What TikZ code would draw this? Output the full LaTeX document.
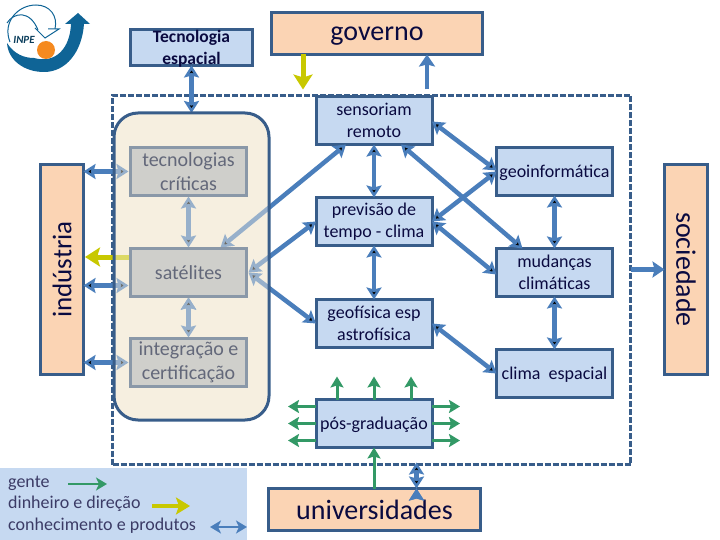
\documentclass[tikz,border=0pt]{standalone}
\usepackage{fontspec}
\setmainfont{Carlito}
\usepackage{xcolor}
\usepackage{tikz}
\usetikzlibrary{arrows.meta}

\definecolor{boxblue}{HTML}{C6D9F1}
\definecolor{boxpeach}{HTML}{FBD4B4}
\definecolor{edgeblue}{HTML}{385D8A}
\definecolor{linkblue}{HTML}{4A7EBB}
\definecolor{linkgreen}{HTML}{339966}
\definecolor{linkyellow}{HTML}{C8C800}
\definecolor{inktext}{HTML}{0A0A40}
\definecolor{panelcream}{HTML}{F6EFE0}
\definecolor{greyfill}{HTML}{CFCFCB}
\definecolor{greyedge}{HTML}{8A98A8}
\definecolor{greytext}{HTML}{63687A}
\definecolor{logoorange}{HTML}{F58A1F}
\definecolor{logoblue}{HTML}{0F6496}

\tikzset{
    bluebox/.style={rectangle,draw=edgeblue,fill=boxblue,line width=3pt,outer sep=0pt,
        text=inktext,align=center,font=\fontsize{18}{22}\selectfont,
        minimum width=116pt,minimum height=48pt,inner sep=0pt},
    peachbox/.style={rectangle,draw=edgeblue,fill=boxpeach,line width=3pt,outer sep=0pt,
        text=inktext,inner sep=0pt},
    greybox/.style={rectangle,draw=greyedge,fill=greyfill,line width=3pt,outer sep=0pt,
        text=greytext,align=center,font=\fontsize{20}{24}\selectfont,
        minimum width=116pt,minimum height=48pt,inner sep=0pt},
    link/.style={draw=linkblue,line width=4.5pt,{Stealth[length=12pt,width=15pt,inset=2pt]}-{Stealth[length=12pt,width=15pt,inset=2pt]}},
    uplink/.style={draw=linkblue,line width=4.5pt,-{Stealth[length=12pt,width=16pt,inset=2pt]}},
    money/.style={draw=linkyellow,line width=5pt,-{Stealth[length=15pt,width=19pt,inset=3pt]}},
    people/.style={draw=linkgreen,line width=3pt,-{Stealth[length=11pt,width=13pt,inset=2pt]}},
    keytext/.style={anchor=west,text=inktext!80,font=\fontsize{18}{20}\selectfont,inner sep=0pt},
}

\begin{document}
\begin{tikzpicture}[x=1pt,y=-1pt]
    \useasboundingbox (0,0) rectangle (720,540);

    % logo
    \draw[logoblue,line width=1pt] (10,42) .. controls (2,22) and (18,5) .. (36,5) .. controls (50,5) and (58,16) .. (55,29);
    \draw[logoblue,line width=1pt] (7,23) .. controls (14,12) and (30,10) .. (38,30);
    \draw[logoblue,line width=1pt] (35,28) -- (45,38) -- (59,29) -- (48,29);
    \fill[logoblue] (7,43) .. controls (14,54) and (24,58) .. (34,58) .. controls (56,64) and (70,48) .. (71,24)
        -- (65,24) -- (78,13) -- (90,24) -- (84,24) .. controls (82,52) and (66,72) .. (44,72) .. controls (24,72) and (8,60) .. (7,43) -- cycle;
    \fill[logoorange] (46,50) circle (9);
    \node[name=logotext,font=\fontsize{11}{11}\selectfont\bfseries\itshape,text=logoblue!60!black,inner sep=0pt] at (24,40) {INPE};

    % outer boxes
    \node[bluebox,name=tecespacial,minimum width=122pt,minimum height=36pt,font=\fontsize{17.5}{22}\selectfont\bfseries,text depth=0pt] at (191.5,47.5) {Tecnologia\\espacial};
    \node[peachbox,name=governo,minimum width=211pt,minimum height=42pt,font=\fontsize{28}{30}\selectfont,text depth=0pt] at (377,33.5) {governo};
    \node[peachbox,name=universidades,minimum width=212pt,minimum height=42pt,font=\fontsize{28}{30}\selectfont] at (374.5,509.5) {universidades};
    \node[peachbox,name=industria,minimum width=43pt,minimum height=210pt,font=\fontsize{27}{28}\selectfont] at (62,269.5) {\rotatebox{90}{indústria}};
    \node[peachbox,name=sociedade,minimum width=43pt,minimum height=210pt,font=\fontsize{28}{28}\selectfont] at (686,269.5) {\rotatebox{-90}{sociedade}};

    % dashed frame
    \node[rectangle,draw=edgeblue,line width=3pt,dash pattern=on 6pt off 2pt,name=frame,minimum width=518pt,minimum height=369pt,inner sep=0pt,outer sep=0pt] at (371.5,280) {};

    % middle column
    \node[bluebox,name=sensoriam] at (374,120.5) {sensoriam\\remoto};
    \node[bluebox,name=previsao,below of=sensoriam,node distance=101pt] {previsão de\\tempo - clima};
    \node[bluebox,name=geofisica,below of=previsao,node distance=102pt] {geofísica esp\\astrofísica};
    \node[bluebox,name=posgrad,below of=geofisica,node distance=100pt,text depth=0pt] {pós-graduação};

    % right column
    \node[bluebox,name=geoinfo,text depth=0pt] at (554.5,171.5) {geoinformática};
    \node[bluebox,name=mudancas,below of=geoinfo,node distance=101pt] {mudanças\\climáticas};
    \node[bluebox,name=climaesp,below of=mudancas,node distance=101pt,text depth=0pt] {clima\ \ espacial};

    % panel
    \node[rectangle,rounded corners=24pt,fill=panelcream,name=panel,minimum width=155pt,minimum height=307pt,inner sep=0pt,outer sep=0pt] at (191.5,266.5) {};

    % anchors for the grey boxes, needed before the boxes are drawn
    \coordinate (tecnol) at (188.5,171.5);
    \coordinate (satel) at (188.5,272.5);
    \coordinate (integ) at (188.5,362.5);
    \coordinate (moneyend) at (85,257);

    % links into the panel, faded by the veil
    \path[link] (tecespacial.south) edge (panel.north)
        ([xshift=-28pt]sensoriam.south) edge ([xshift=32pt,yshift=25pt]satel)
        (previsao.west) edge ([xshift=60pt]satel)
        (geofisica.west) edge ([xshift=60pt]satel)
        (industria.east |- tecnol) edge ([xshift=-60pt]tecnol)
        ([yshift=-16pt]industria.east) edge ([xshift=-60pt,yshift=-16pt]industria.east -| satel)
        (industria.east |- integ) edge ([xshift=-60pt]integ)
        ([yshift=-25pt]tecnol) edge ([yshift=25pt]satel)
        ([yshift=-25pt]satel) edge ([yshift=25pt]integ);
    \draw[money] ([xshift=44pt]moneyend) -- (moneyend);

    \fill[panelcream,opacity=.45,rounded corners=24pt] (panel.north west) rectangle (panel.south east);
    \draw[edgeblue,line width=3pt,rounded corners=24pt] (panel.north west) rectangle (panel.south east);

    % grey boxes
    \node[greybox,name=tecnologias] at (tecnol) {tecnologias\\críticas};
    \node[greybox,name=satelites] at (satel) {satélites};
    \node[greybox,name=integracao] at (integ) {integração e\\certificação};

    % links between the blue boxes
    \path[link] (sensoriam.south) edge (previsao.north)
        (previsao.south) edge (geofisica.north)
        ([yshift=-1pt]sensoriam.east) edge ([yshift=1pt]geoinfo.west)
        ([xshift=27pt]sensoriam.south) edge ([xshift=-32pt]mudancas.north)
        (previsao.east) edge (geoinfo.west)
        (previsao.east) edge ([yshift=-2pt]mudancas.west)
        (geofisica.east) edge (climaesp.west)
        (geoinfo.south) edge (mudancas.north)
        (mudancas.south) edge (climaesp.north)
        ([xshift=42pt]universidades.north) edge ([xshift=42pt,yshift=26pt]universidades.north);
    \draw[uplink] ([xshift=50pt,yshift=-35pt]governo.south) -- ([xshift=50pt]governo.south);
    \draw[uplink] (frame.east |- sociedade) -- (sociedade.west);
    \draw[money] ([xshift=-74pt]governo.south) -- ([xshift=-74pt,yshift=-35pt]governo.south);

    % green arrows round the pos-graduacao box
    \draw[people] (universidades.north -| posgrad) -- (posgrad.south);
    \foreach \dx in {-37,0,37}
        \draw[people] ([xshift=\dx pt]posgrad.north) -- ([xshift=\dx pt,yshift=23pt]posgrad.north);
    \foreach \dy in {-17,0,17} {
        \draw[people] ([yshift=\dy pt]posgrad.east) -- ([xshift=28pt,yshift=\dy pt]posgrad.east);
        \draw[people] ([yshift=\dy pt]posgrad.west) -- ([xshift=-28pt,yshift=\dy pt]posgrad.west);
    }

    % legend
    \fill[boxblue] (0,468) rectangle (247,540);
    \node[keytext,name=keypeople] at (8,483) {gente};
    \node[keytext,name=keymoney] at (8,504) {dinheiro e direção};
    \node[keytext,name=keyknow] at (8,526) {conhecimento e produtos};
    \coordinate (keypeoplea) at (68,484);
    \coordinate (keypeopleb) at (107,484);
    \coordinate (keymoneya) at (152,506);
    \coordinate (keymoneyb) at (190,506);
    \coordinate (keyknowa) at (210,527);
    \coordinate (keyknowb) at (247,527);
    \draw[draw=linkgreen,line width=2pt,-{Stealth[length=11pt,width=13pt,inset=3pt]}] (keypeoplea) -- (keypeopleb);
    \draw[draw=linkyellow,line width=4pt,-{Stealth[length=14pt,width=17pt,inset=3pt]}] (keymoneya) -- (keymoneyb);
    \draw[draw=linkblue,line width=2pt,{Stealth[length=11pt,width=13pt,inset=3pt]}-{Stealth[length=11pt,width=13pt,inset=3pt]}] (keyknowa) -- (keyknowb);
\end{tikzpicture}
\end{document}
